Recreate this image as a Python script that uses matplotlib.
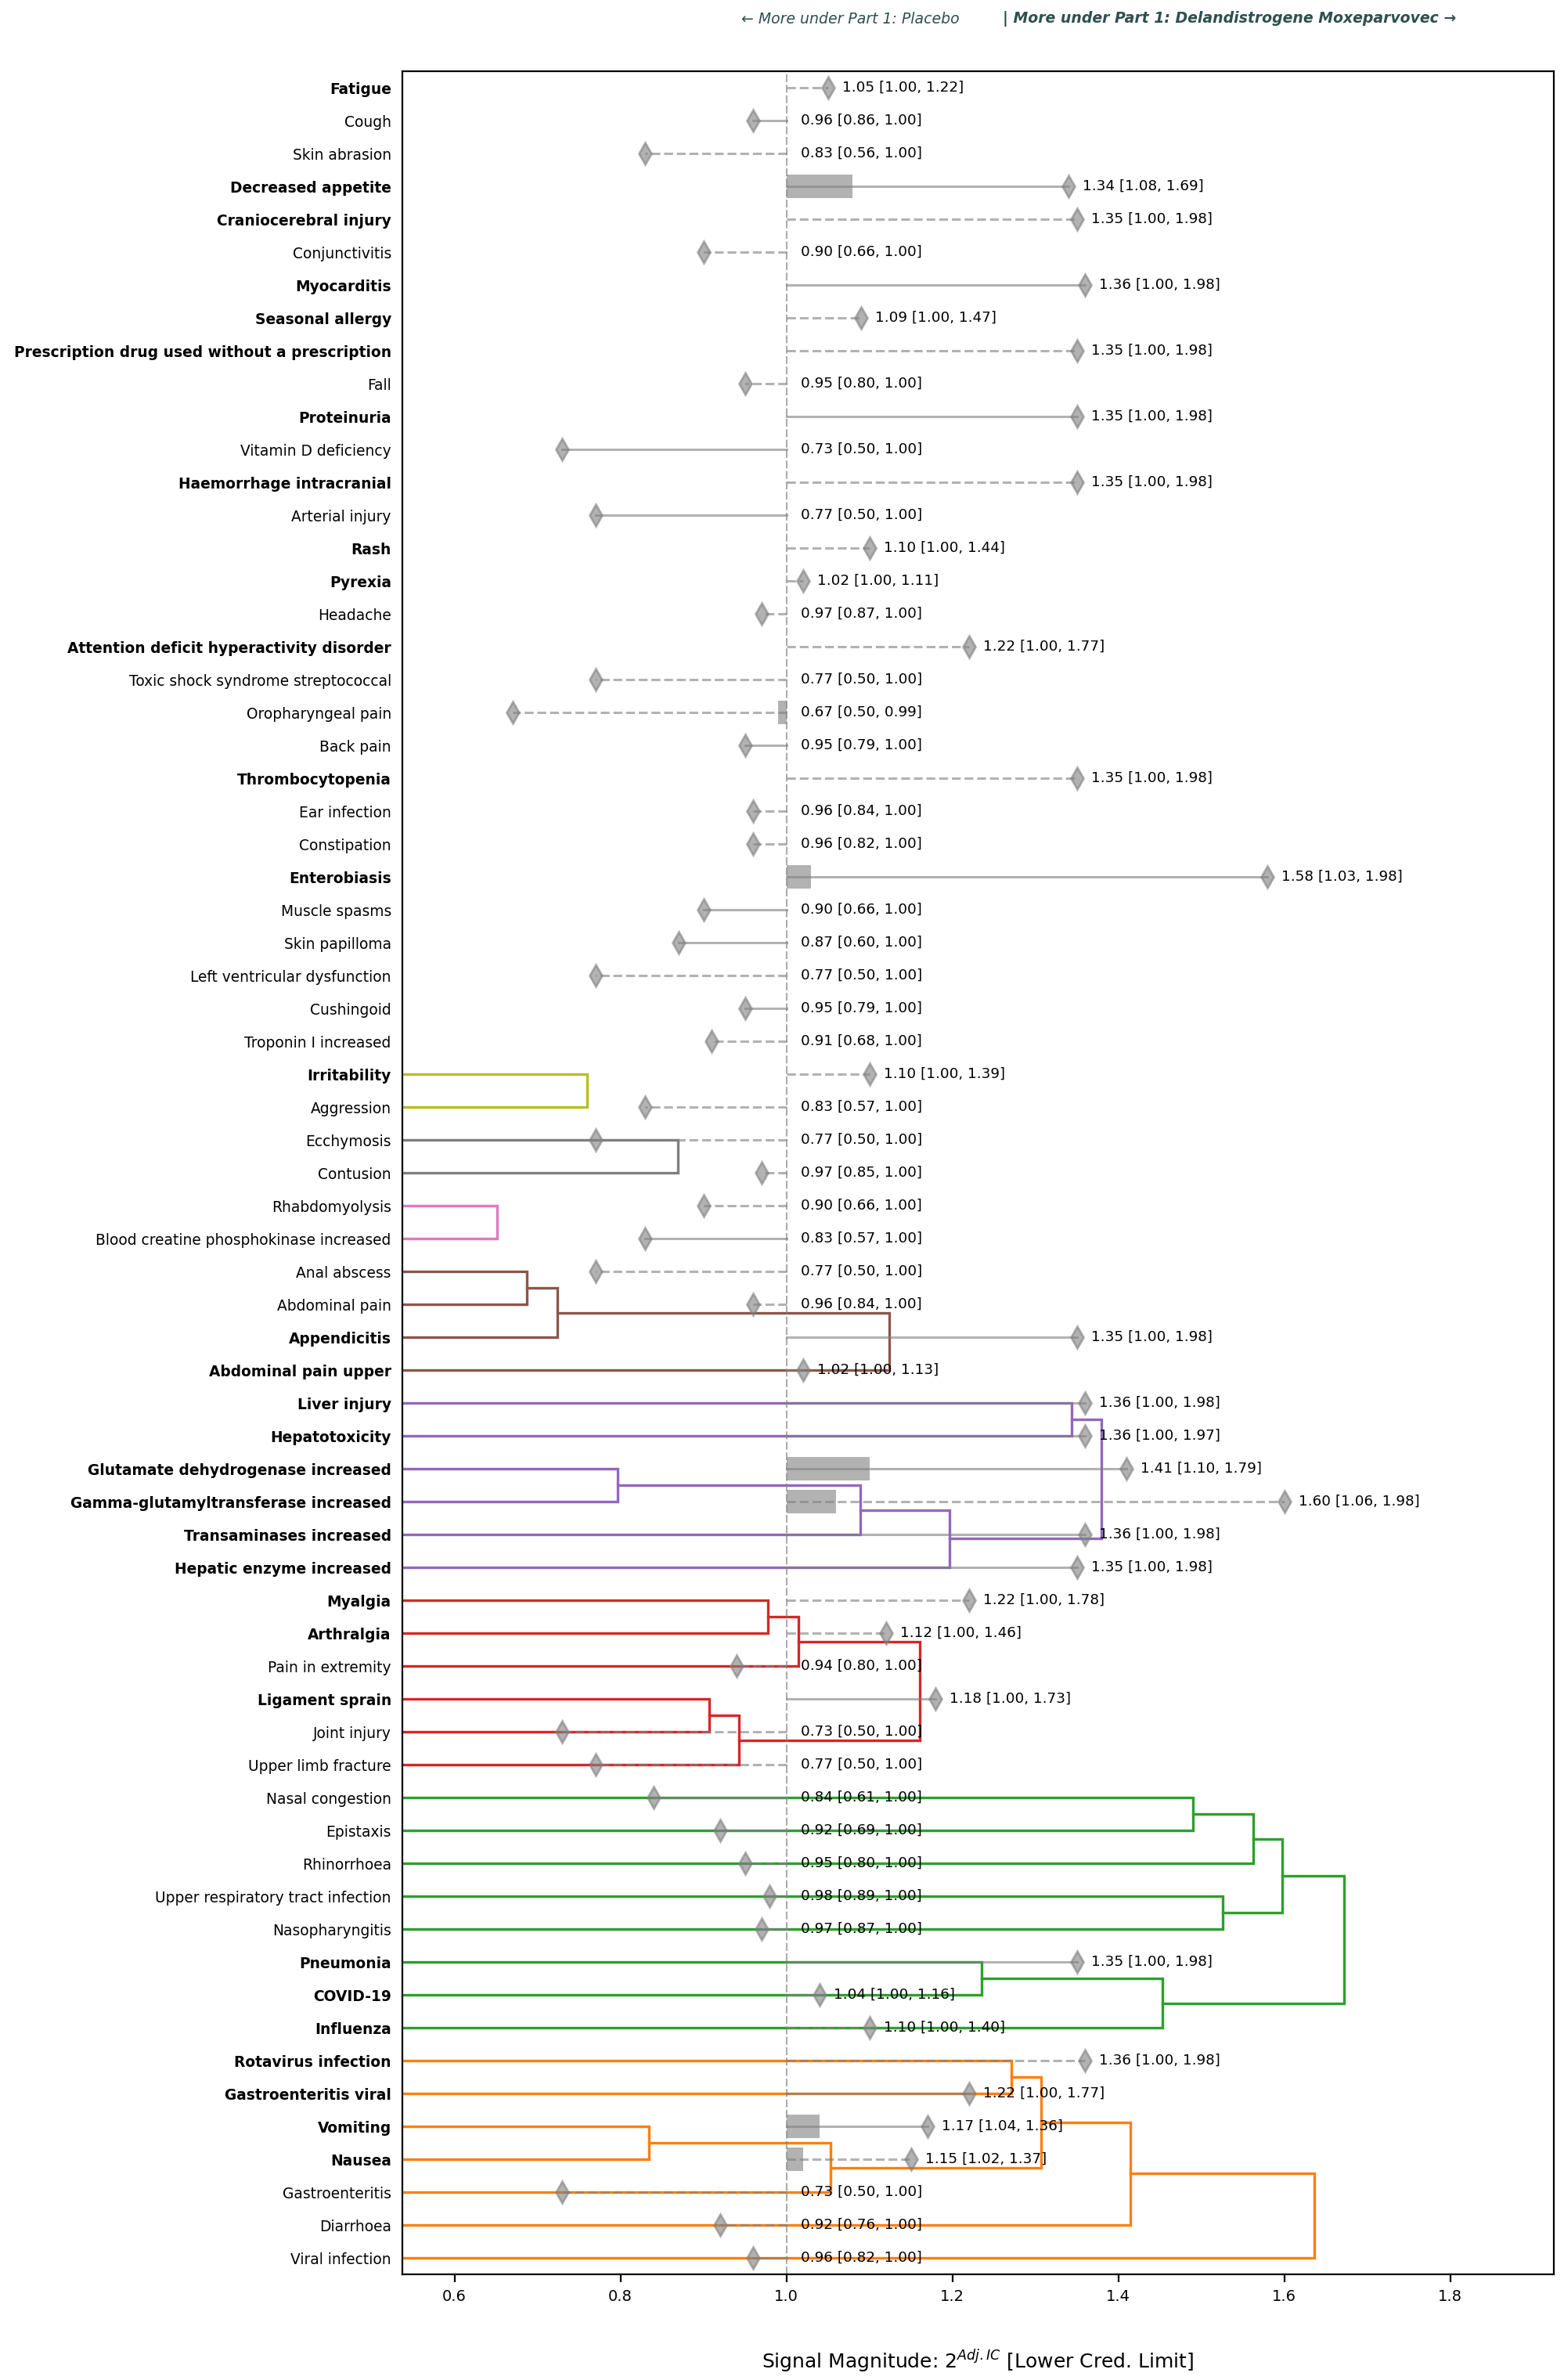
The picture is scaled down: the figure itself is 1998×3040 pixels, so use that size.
import matplotlib
matplotlib.use('Agg')
import matplotlib.pyplot as plt
import numpy as np

# Zeilen von oben nach unten
labels = ['Fatigue', 'Cough', 'Skin abrasion', 'Decreased appetite', 'Craniocerebral injury',
          'Conjunctivitis', 'Myocarditis', 'Seasonal allergy',
          'Prescription drug used without a prescription', 'Fall', 'Proteinuria',
          'Vitamin D deficiency', 'Haemorrhage intracranial', 'Arterial injury', 'Rash',
          'Pyrexia', 'Headache', 'Attention deficit hyperactivity disorder',
          'Toxic shock syndrome streptococcal', 'Oropharyngeal pain', 'Back pain',
          'Thrombocytopenia', 'Ear infection', 'Constipation', 'Enterobiasis',
          'Muscle spasms', 'Skin papilloma', 'Left ventricular dysfunction', 'Cushingoid',
          'Troponin I increased', 'Irritability', 'Aggression', 'Ecchymosis', 'Contusion',
          'Rhabdomyolysis', 'Blood creatine phosphokinase increased', 'Anal abscess',
          'Abdominal pain', 'Appendicitis', 'Abdominal pain upper', 'Liver injury',
          'Hepatotoxicity', 'Glutamate dehydrogenase increased',
          'Gamma-glutamyltransferase increased', 'Transaminases increased',
          'Hepatic enzyme increased', 'Myalgia', 'Arthralgia', 'Pain in extremity',
          'Ligament sprain', 'Joint injury', 'Upper limb fracture', 'Nasal congestion',
          'Epistaxis', 'Rhinorrhoea', 'Upper respiratory tract infection', 'Nasopharyngitis',
          'Pneumonia', 'COVID-19', 'Influenza', 'Rotavirus infection', 'Gastroenteritis viral',
          'Vomiting', 'Nausea', 'Gastroenteritis', 'Diarrhoea', 'Viral infection']

est = [1.05, 0.96, 0.83, 1.34, 1.35, 0.90, 1.36, 1.09, 1.35, 0.95, 1.35, 0.73, 1.35, 0.77,
       1.10, 1.02, 0.97, 1.22, 0.77, 0.67, 0.95, 1.35, 0.96, 0.96, 1.58, 0.90, 0.87, 0.77,
       0.95, 0.91, 1.10, 0.83, 0.77, 0.97, 0.90, 0.83, 0.77, 0.96, 1.35, 1.02, 1.36, 1.36,
       1.41, 1.60, 1.36, 1.35, 1.22, 1.12, 0.94, 1.18, 0.73, 0.77, 0.84, 0.92, 0.95, 0.98,
       0.97, 1.35, 1.04, 1.10, 1.36, 1.22, 1.17, 1.15, 0.73, 0.92, 0.96]
lo = [1.00, 0.86, 0.56, 1.08, 1.00, 0.66, 1.00, 1.00, 1.00, 0.80, 1.00, 0.50, 1.00, 0.50,
      1.00, 1.00, 0.87, 1.00, 0.50, 0.50, 0.79, 1.00, 0.84, 0.82, 1.03, 0.66, 0.60, 0.50,
      0.79, 0.68, 1.00, 0.57, 0.50, 0.85, 0.66, 0.57, 0.50, 0.84, 1.00, 1.00, 1.00, 1.00,
      1.10, 1.06, 1.00, 1.00, 1.00, 1.00, 0.80, 1.00, 0.50, 0.50, 0.61, 0.69, 0.80, 0.89,
      0.87, 1.00, 1.00, 1.00, 1.00, 1.00, 1.04, 1.02, 0.50, 0.76, 0.82]
hi = [1.22, 1.00, 1.00, 1.69, 1.98, 1.00, 1.98, 1.47, 1.98, 1.00, 1.98, 1.00, 1.98, 1.00,
      1.44, 1.11, 1.00, 1.77, 1.00, 0.99, 1.00, 1.98, 1.00, 1.00, 1.98, 1.00, 1.00, 1.00,
      1.00, 1.00, 1.39, 1.00, 1.00, 1.00, 1.00, 1.00, 1.00, 1.00, 1.98, 1.13, 1.98, 1.97,
      1.79, 1.98, 1.98, 1.98, 1.78, 1.46, 1.00, 1.73, 1.00, 1.00, 1.00, 1.00, 1.00, 1.00,
      1.00, 1.98, 1.16, 1.40, 1.98, 1.77, 1.36, 1.37, 1.00, 1.00, 1.00]
# 1 = gestrichelt
dashed = [1, 0, 1, 0, 1, 1, 0, 1, 1, 1, 0, 0, 1, 0, 1, 1, 1, 1, 1, 1, 0, 1, 1, 1, 0, 0, 0,
          1, 0, 1, 1, 1, 1, 1, 1, 0, 1, 1, 0, 0, 0, 0, 0, 1, 0, 0, 1, 1, 1, 0, 1, 1, 0, 0,
          1, 0, 0, 0, 0, 1, 1, 0, 0, 1, 1, 1, 0]

# Dendrogramm: (Kind a, Kind b, Hoehe); Kind = Zeilenindex oder 'm<k>' fuer k-te Verschmelzung
clusters = [
    ('C8', [(30, 31, 0.760)]),
    ('C7', [(32, 33, 0.869)]),
    ('C6', [(34, 35, 0.651)]),
    ('C5', [(36, 37, 0.687), ('m0', 38, 0.724), ('m1', 39, 1.1245)]),
    ('C4', [(40, 41, 1.344), (42, 43, 0.797), ('m1', 44, 1.089), ('m2', 45, 1.197),
            ('m0', 'm3', 1.380)]),
    ('C3', [(46, 47, 0.978), ('m0', 48, 1.015), (49, 50, 0.907), ('m2', 51, 0.943),
            ('m1', 'm3', 1.161)]),
    ('C2', [(52, 53, 1.490), ('m0', 54, 1.563), (55, 56, 1.526), ('m1', 'm2', 1.598),
            (57, 58, 1.235), ('m4', 59, 1.453), ('m3', 'm5', 1.672)]),
    ('C1', [(60, 61, 1.271), (62, 63, 0.834), ('m1', 64, 1.053), ('m0', 'm2', 1.307),
            ('m3', 65, 1.415), ('m4', 66, 1.636)]),
]

xmin, xmax = 0.537, 1.925

fig = plt.figure(figsize=(9.995, 15.2), dpi=200)
ax = fig.add_axes([0.257, 0.0444, 0.736, 0.9256])

y = np.arange(len(labels))

# Dendrogramm zuerst (darunter)
for col, merges in clusters:
    pos = {}
    for k, (a, b, h) in enumerate(merges):
        pts = []
        for c in (a, b):
            if isinstance(c, str):
                pts.append(pos[c])
            else:
                pts.append((y[c], xmin))
        (ya, xa), (yb, xb) = pts
        ax.plot([xa, h, h, xb], [ya, ya, yb, yb], color=col, lw=1.2, zorder=1,
                solid_joinstyle='miter')
        pos['m%d' % k] = ((ya + yb) / 2, h)

# Referenzlinie
ax.axvline(1.0, color='gray', lw=0.6, alpha=0.8, dashes=(6, 2), zorder=2)

for i in range(len(labels)):
    e = est[i]
    ls = '--' if dashed[i] else '-'
    ax.plot([1.0, e], [y[i], y[i]], color='gray', alpha=0.6, lw=1.1, ls=ls, zorder=3)
    ax.plot(e, y[i], marker='d', color='gray', alpha=0.6, markersize=7, zorder=4)
    if lo[i] > 1.0:
        ax.barh(y[i], lo[i] - 1.0, left=1.0, height=0.7, color='gray', alpha=0.6, zorder=3)
    elif hi[i] < 1.0:
        ax.barh(y[i], hi[i] - 1.0, left=1.0, height=0.7, color='gray', alpha=0.6, zorder=3)
    ax.text(max(e, 1.0) + 0.017, y[i], '%.2f [%.2f, %.2f]' % (e, lo[i], hi[i]),
            va='center', ha='left', fontsize=6.6, zorder=5)

ax.set_ylim(len(labels) - 0.5, -0.5)
ax.set_xlim(xmin, xmax)
ax.set_yticks(y)
ax.set_yticklabels(labels, fontsize=6.7)
for t, e in zip(ax.get_yticklabels(), est):
    if e > 1.0:
        t.set_fontweight('bold')
ax.tick_params(axis='y', length=0, pad=5)
ax.set_xticks([0.6, 0.8, 1.0, 1.2, 1.4, 1.6, 1.8])
ax.tick_params(axis='x', labelsize=7)
ax.set_xlabel(r'Signal Magnitude: $2^{Adj.IC}$ [Lower Cred. Limit]', fontsize=9, labelpad=20)

fig.text(0.613, 0.992, '\u2190 More under Part 1: Placebo', ha='right', va='center',
         fontsize=6.8, style='italic', color='darkslategray')
fig.text(0.641, 0.992, '| More under Part 1: Delandistrogene Moxeparvovec \u2192', ha='left',
         va='center', fontsize=6.8, style='italic', fontweight='bold', color='darkslategray')

fig.savefig('out.png', dpi=200)
